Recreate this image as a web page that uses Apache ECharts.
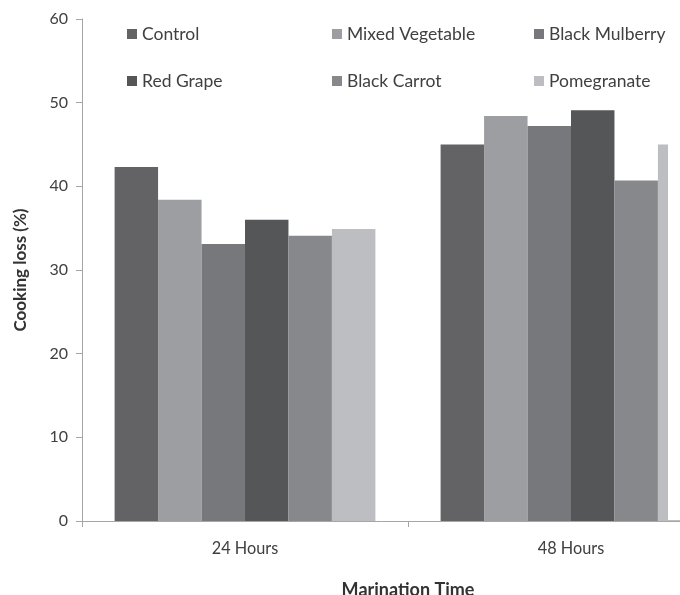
<!DOCTYPE html>
<html><head><meta charset="utf-8">
<script src="https://cdn.jsdelivr.net/npm/echarts@6/dist/echarts.min.js"></script>
<style>html,body{margin:0;padding:0;background:#fff}#c{width:680px;height:595px}</style>
</head><body><div id="c"></div>
<script>
const categories = ['24 Hours', '48 Hours'];
const seriesNames = ['Control', 'Mixed Vegetable', 'Black Mulberry', 'Red Grape', 'Black Carrot', 'Pomegranate'];
const control = [42.3, 45.0];
const mixedVegetable = [38.4, 48.4];
const blackMulberry = [33.1, 47.2];
const redGrape = [36.0, 49.1];
const blackCarrot = [34.1, 40.7];
const pomegranate = [34.9, 45.0];
const values = [control, mixedVegetable, blackMulberry, redGrape, blackCarrot, pomegranate];
const colors = ['#636365', '#9d9ea2', '#77787c', '#555658', '#87888c', '#bdbec2'];
const font = 'Lato';
const chart = echarts.init(document.getElementById('c'));
function legendCol(left, names) {
  return {
    orient: 'vertical', left: left, top: 25, itemGap: 29,
    itemWidth: 10, itemHeight: 10, icon: 'rect',
    data: names, padding: 0,
    textStyle: {fontFamily: font, fontSize: 17.5, color: '#404040', padding: [0,0,0,0]}
  };
}
chart.setOption({
  animation: false,
  color: colors,
  legend: [
    legendCol(127, ['Control', 'Red Grape']),
    legendCol(332, ['Mixed Vegetable', 'Black Carrot']),
    legendCol(534, ['Black Mulberry', 'Pomegranate'])
  ],
  graphic: [{type: 'rect', z: 100, shape: {x: 668, y: 0, width: 20, height: 520}, style: {fill: '#fff'}}],
  grid: {left: 82, top: 19, height: 502, width: 652, containLabel: false, outerBoundsMode: 'none'},
  xAxis: {
    type: 'category', data: categories,
    axisLine: {lineStyle: {color: '#a6a6a6'}},
    axisTick: {show: true, length: 6, lineStyle: {color: '#a6a6a6'}},
    axisLabel: {fontFamily: font, fontSize: 16.3, color: '#404040', margin: 20},
    name: 'Marination Time', nameLocation: 'middle', nameGap: 60,
    nameTextStyle: {fontFamily: font, fontSize: 18, fontWeight: 'bold', color: '#333'}
  },
  yAxis: {
    type: 'value', min: 0, max: 60, interval: 10,
    axisLine: {show: true, lineStyle: {color: '#a6a6a6'}},
    axisTick: {show: true, length: 6, lineStyle: {color: '#a6a6a6'}},
    splitLine: {show: false},
    axisLabel: {fontFamily: font, fontSize: 16, color: '#404040', margin: 14},
    name: 'Cooking loss (%)', nameLocation: 'middle', nameGap: 53, nameRotate: 90,
    nameTextStyle: {fontFamily: font, fontSize: 17, fontWeight: 'bold', color: '#333'}
  },
  series: seriesNames.map((n, i) => ({
    name: n, type: 'bar', data: values[i],
    barGap: '0%', barCategoryGap: '20%',
    itemStyle: {color: colors[i]}
  }))
});
</script></body></html>
